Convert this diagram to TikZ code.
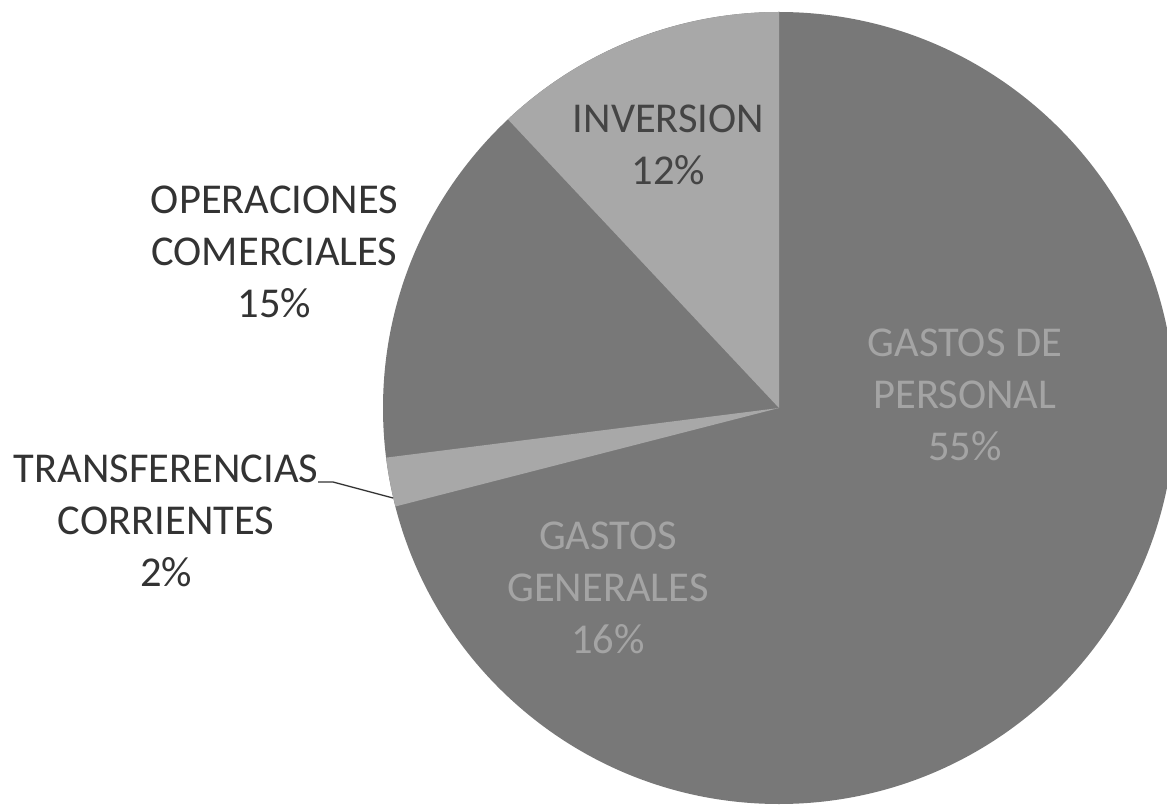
\documentclass[tikz,border=0pt]{standalone}
\usepackage{fontspec}
\setmainfont{Carlito}
\begin{document}
\begin{tikzpicture}[x=1pt,y=1pt,
  sdark/.style={fill=pdark},
  slight/.style={fill=plight},
  lbl/.style={align=center,inner sep=0pt,anchor=base,font=\fontsize{42.5}{52}\selectfont},
  lblin/.style={lbl,text=tin},
  lblinv/.style={lbl,text=tinv},
  lblout/.style={lbl,text=tout}]
\definecolor{pdark}{HTML}{787878}
\definecolor{plight}{HTML}{A8A8A8}
\definecolor{tin}{HTML}{A4A4A4}
\definecolor{tinv}{HTML}{444444}
\definecolor{tout}{HTML}{333333}
\useasboundingbox (0,0) rectangle (1167,807);
\coordinate (c) at (779,399);
\def\R{396}
% pie: dark base, light slices on top
\fill[sdark] (c) circle[radius=\R];
\fill[slight] (c) -- ++(-165.6:\R) arc[start angle=-165.6, end angle=-172.8, radius=\R] -- cycle;
\fill[slight] (c) -- ++(-226.8:\R) arc[start angle=-226.8, end angle=-270, radius=\R] -- cycle;
% labels (anchored at the baseline of the last line)
\node[lblin]  (gp)  at (965,347) {GASTOS DE\\PERSONAL\\55\%};
\node[lblin]  (gg)  at (608,154) {GASTOS\\GENERALES\\16\%};
\node[lblinv] (inv) at (668.5,622) {INVERSION\\12\%};
\node[lblout] (op)  at (274.5,489) {OPERACIONES\\COMERCIALES\\15\%};
\node[lblout] (tr)  at (166,221) {TRANSFERENCIAS\\CORRIENTES\\2\%};
% leader
\coordinate (trs) at (318,325);
\coordinate (trk) at (333,325);
\coordinate (trend) at (393,309);
\draw[tout,line width=1.3pt] (trs) -- (trk) -- (trend);
\end{tikzpicture}
\end{document}
